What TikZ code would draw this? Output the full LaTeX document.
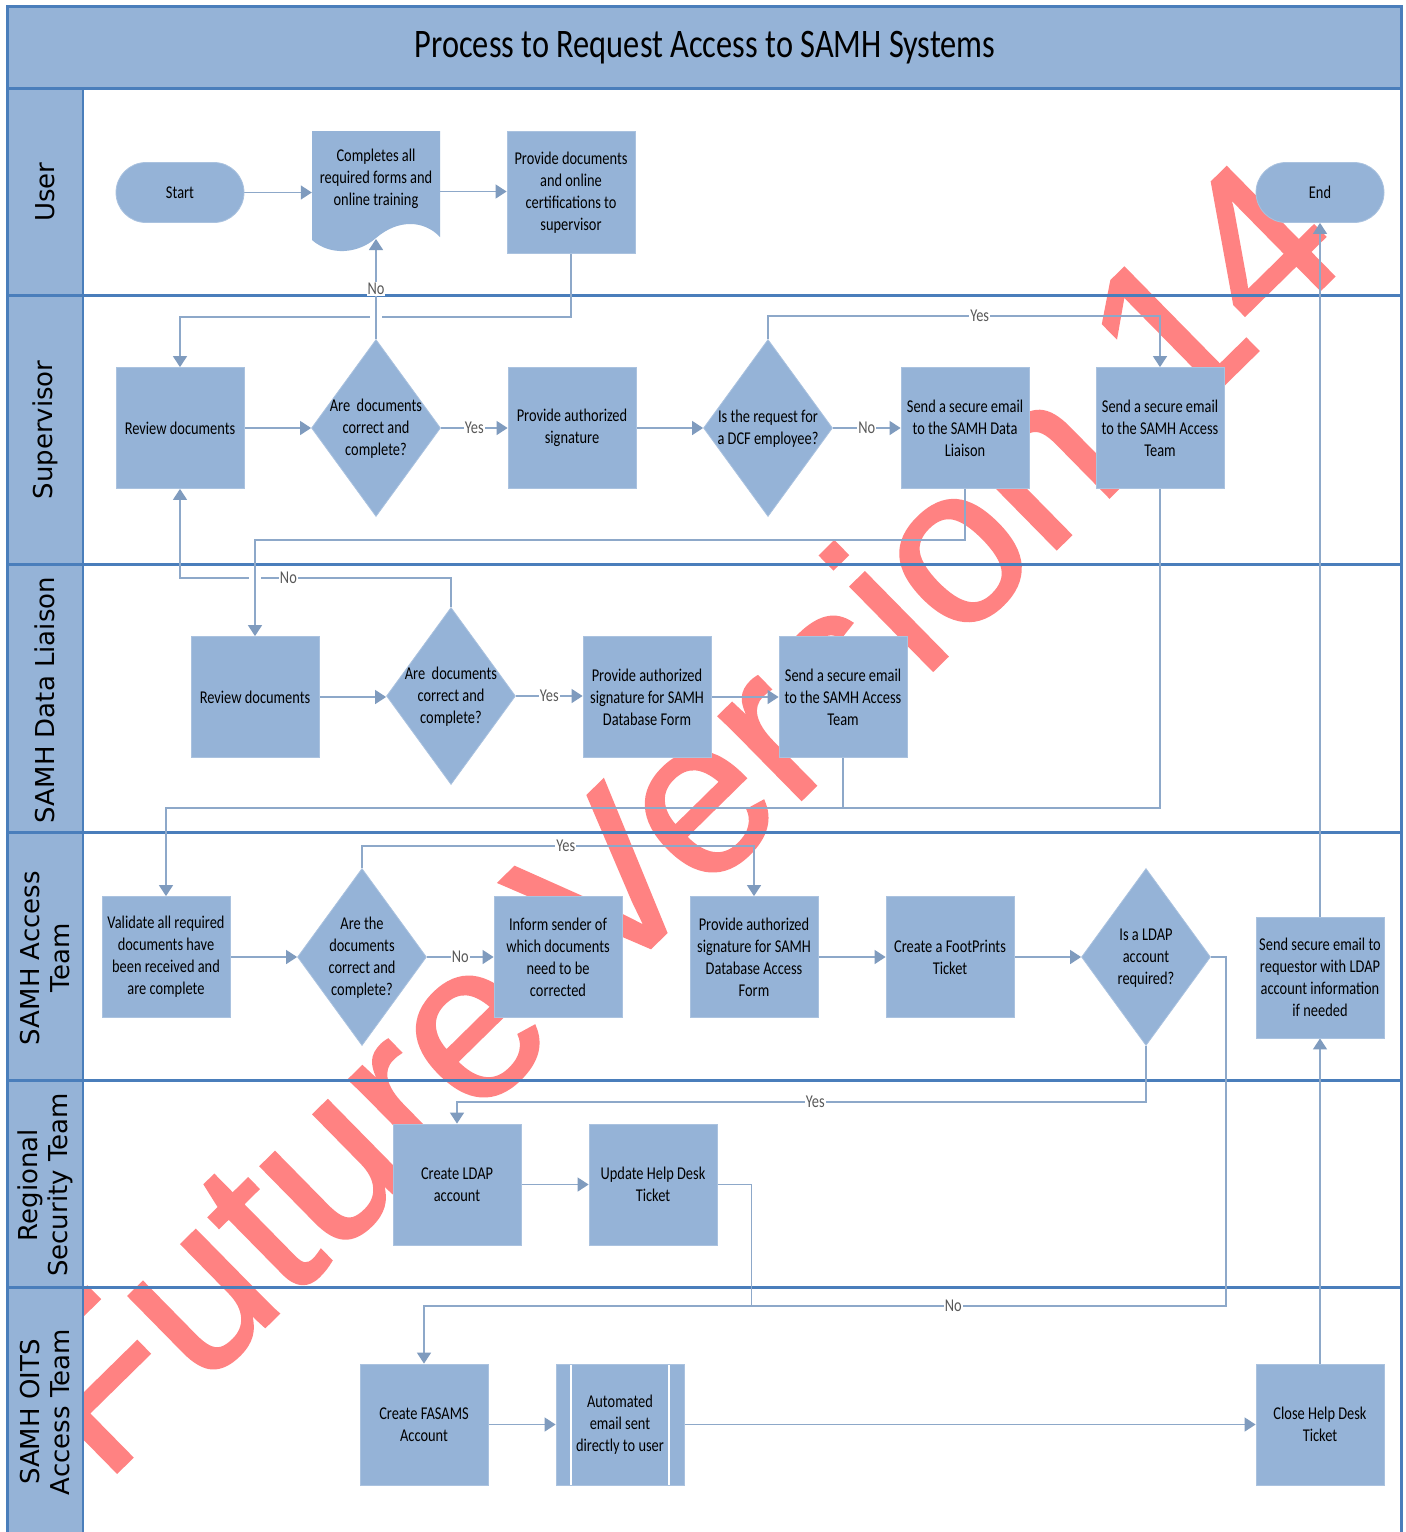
\documentclass[tikz,border=0pt]{standalone}
\usepackage{fontspec}
\setmainfont{Carlito}[FakeStretch=0.8]
\newfontfamily\lanefont{DejaVu Sans}
\newfontfamily\wmfont{Liberation Sans}[FakeBold=1.2]
\usetikzlibrary{shapes.geometric,arrows.meta}
\pgfdeclarelayer{wmlayer}
\pgfdeclarelayer{lanelayer}
\pgfdeclarelayer{connlayer}
\pgfsetlayers{wmlayer,lanelayer,connlayer,main}
\definecolor{boxblue}{HTML}{95B3D7}
\definecolor{laneblue}{HTML}{4A7EBB}
\definecolor{linecol}{HTML}{8DA8C9}
\definecolor{tipcol}{HTML}{7F9BBE}
\definecolor{lblcol}{HTML}{595959}
\definecolor{wmred}{HTML}{FF8282}
\newcommand{\boxfont}{\fontsize{18}{22}\selectfont}
\tikzset{
  proc/.style={rectangle, fill=boxblue, draw=boxblue!80!white, line width=0.8pt,
    minimum width=128pt, minimum height=121pt, inner sep=2pt, align=center, font=\boxfont},
  term/.style={proc, rounded corners=30pt, minimum height=60pt},
  predef/.style={proc, path picture={
    \draw[white, line width=1.5pt] ([xshift=15pt]path picture bounding box.north west) -- ([xshift=15pt]path picture bounding box.south west);
    \draw[white, line width=1.5pt] ([xshift=-15pt]path picture bounding box.north east) -- ([xshift=-15pt]path picture bounding box.south east);}},
  docbox/.style={rectangle, minimum width=128pt, minimum height=121pt, inner sep=0pt},
  decision/.style={diamond, fill=boxblue, draw=boxblue!80!white, line width=0.8pt,
    minimum width=129pt, minimum height=177pt, inner sep=0pt},
  txt/.style={align=center, font=\boxfont, inner sep=0pt, yshift=-1pt},
  conn/.style={draw=linecol, line width=1.3pt, -{Triangle[length=11pt,width=14pt,color=tipcol]}},
  plainline/.style={draw=linecol, line width=1.3pt},
  lbl/.style={fill=white, inner sep=1pt, text=lblcol, font=\boxfont},
  laneline/.style={draw=laneblue, line width=3pt},
  lanelbl/.style={rotate=90, align=center, font=\lanefont\fontsize{26}{30}\selectfont},
}
\begin{document}
\begin{tikzpicture}[x=1pt,y=-1pt]
\useasboundingbox (0,0) rectangle (1406,1532);

% ---------------- background and watermark
\begin{pgfonlayer}{wmlayer}
\fill[white] (0,0) rectangle (1406,1532);
\node[rotate=44.5, anchor=base west, inner sep=0pt, text=wmred,
  font=\wmfont\fontsize{222}{222}\selectfont] (wm) at (104,1485) {Future Version 14};
\end{pgfonlayer}

% ---------------- lanes
\begin{pgfonlayer}{lanelayer}
\fill[boxblue] (7,6) rectangle (1401,88);
\fill[boxblue] (7,88) rectangle (83,1536);
\foreach \yy in {88,295,564,832,1080,1287} \draw[laneline] (7,\yy) -- (1401,\yy);
\draw[laneline] (7,1536) -- (7,6) -- (1401,6) -- (1401,1536);
\draw[draw=laneblue, line width=2pt] (83,88) -- (83,1536);
\node[font=\fontsize{40.5}{48}\selectfont] (title) at (705,48) {Process to Request Access to SAMH Systems};
\node[lanelbl] (lu) at (45,192) {User};
\node[lanelbl] (ls) at (45,430) {Supervisor};
\node[lanelbl] (ldl) at (45,700) {SAMH Data Liaison};
\node[lanelbl] (lat) at (45,958) {SAMH Access\\Team};
\node[lanelbl] (lrs) at (45,1185) {Regional\\Security Team};
\node[lanelbl] (lo) at (45,1412) {SAMH OITS\\Access Team};
\end{pgfonlayer}

% ---------------- nodes
% User
\node[term] (start) at (180,192.5) {Start};
\node[term] (endn) at (1320,192.5) {End};
\fill[boxblue] (312,131) -- (440,131) -- (440,237)
  .. controls (424,220) and (398,219) .. (376,238)
  .. controls (358,254) and (330,256) .. (312,240) -- cycle;
\node[docbox] (completes) at (376,191.5) {};
\node[txt] (completest) at (376,178) {Completes all\\required forms and\\online training};
\coordinate (wave) at (376,239);
\node[proc, minimum height=122pt] (provdocs) at (571,192.5) {Provide documents\\and online\\certifications to\\supervisor};
% Supervisor
\node[proc] (revsup) at (180,428) {Review documents};
\node[decision] (d1) at (376,428) {};
\node[txt] (d1t) at (376,428) {Are\ \ documents\\correct and\\complete?};
\node[proc] (provsig) at (572,428) {Provide authorized\\signature};
\node[decision] (d2) at (768,428) {};
\node[txt] (d2t) at (768,428) {Is the request for\\a DCF employee?};
\node[proc] (senddl) at (965,428) {Send a secure email\\to the SAMH Data\\Liaison};
\node[proc] (sendat) at (1160,428) {Send a secure email\\to the SAMH Access\\Team};
% Data liaison
\node[proc] (revdl) at (255,697) {Review documents};
\node[decision] (d3) at (451,696) {};
\node[txt] (d3t) at (451,696) {Are\ \ documents\\correct and\\complete?};
\node[proc] (provdb) at (647,697) {Provide authorized\\signature for SAMH\\Database Form};
\node[proc] (sendatdl) at (843,697) {Send a secure email\\to the SAMH Access\\Team};
% Access team
\node[proc] (validate) at (166,957) {Validate all required\\documents have\\been received and\\are complete};
\node[decision] (d4) at (362,957) {};
\node[txt] (d4t) at (362,957) {Are the\\documents\\correct and\\complete?};
\node[proc] (inform) at (558,957) {Inform sender of\\which documents\\need to be\\corrected};
\node[proc] (provacc) at (754,957) {Provide authorized\\signature for SAMH\\Database Access\\Form};
\node[proc] (ftp) at (950,957) {Create a FootPrints\\Ticket};
\node[decision] (d5) at (1146,957) {};
\node[txt] (d5t) at (1146,957) {Is a LDAP\\account\\required?};
\node[proc] (sendreq) at (1320,977.5) {Send secure email to\\requestor with LDAP\\account information\\if needed};
% Regional security
\node[proc] (ldap) at (457,1184.5) {Create LDAP\\account};
\node[proc] (updhd) at (653,1184.5) {Update Help Desk\\Ticket};
% OITS
\node[proc] (fasams) at (424,1424.5) {Create FASAMS\\Account};
\node[predef] (autoemail) at (620,1424.5) {Automated\\email sent\\directly to user};
\node[proc] (closehd) at (1320,1424.5) {Close Help Desk\\Ticket};

% ---------------- connectors
\begin{pgfonlayer}{connlayer}
\draw[conn] (start.east) -- (start.east -| completes.west);
\draw[conn] (completes.east) -- (completes.east -| provdocs.west);
\draw[conn] (provdocs.south) -- ++(0,63) -| (revsup.north);
\fill[white] (370,312) rectangle (382,320);
\draw[conn] (d1.north) -- node[lbl]{No} (wave);
\draw[conn] (revsup.east) -- (revsup.east -| d1.west);
\draw[conn] (d1.east) -- node[lbl]{Yes} (d1.east -| provsig.west);
\draw[conn] (provsig.east) -- (provsig.east -| d2.west);
\draw[conn] (d2.east) -- node[lbl]{No} (d2.east -| senddl.west);
\draw[conn] (d2.north) -- ++(0,-23) -| node[lbl,pos=0.27]{Yes} (sendat.north);
\draw[conn] (d3.north) -- ++(0,-29) -| node[lbl,pos=0.3]{No} (revsup.south);
\fill[white] (249,575) rectangle (261,583);
\draw[conn] (senddl.south) -- ++(0,51) -| (revdl.north);
\draw[conn] (revdl.east) -- (revdl.east -| d3.west);
\draw[conn] (d3.east) -- node[lbl]{Yes} (d3.east -| provdb.west);
\draw[conn] (provdb.east) -- (provdb.east -| sendatdl.west);
\draw[conn] (sendat.south) -- ++(0,319) -| (validate.north);
\draw[plainline] (sendatdl.south) -- ++(0,50);
\draw[conn] (validate.east) -- (validate.east -| d4.west);
\draw[conn] (d4.east) -- node[lbl]{No} (d4.east -| inform.west);
\draw[conn] (d4.north) -- ++(0,-22) -| node[lbl,pos=0.26]{Yes} (provacc.north);
\draw[conn] (provacc.east) -- (provacc.east -| ftp.west);
\draw[conn] (ftp.east) -- (ftp.east -| d5.west);
\draw[conn] (d5.south) -- ++(0,56) -| node[lbl,pos=0.24]{Yes} (ldap.north);
\draw[conn] (d5.east) -- ++(15,0) -- ++(0,349) -| node[lbl,pos=0.17]{No} (fasams.north);
\draw[conn] (ldap.east) -- (ldap.east -| updhd.west);
\draw[plainline] (updhd.east) -- ++(34,0) -- ++(0,122);
\draw[conn] (fasams.east) -- (fasams.east -| autoemail.west);
\draw[conn] (autoemail.east) -- (autoemail.east -| closehd.west);
\draw[conn] (closehd.north) -- (sendreq.south);
\draw[conn] (sendreq.north) -- (endn.south);
\end{pgfonlayer}
\end{tikzpicture}
\end{document}
